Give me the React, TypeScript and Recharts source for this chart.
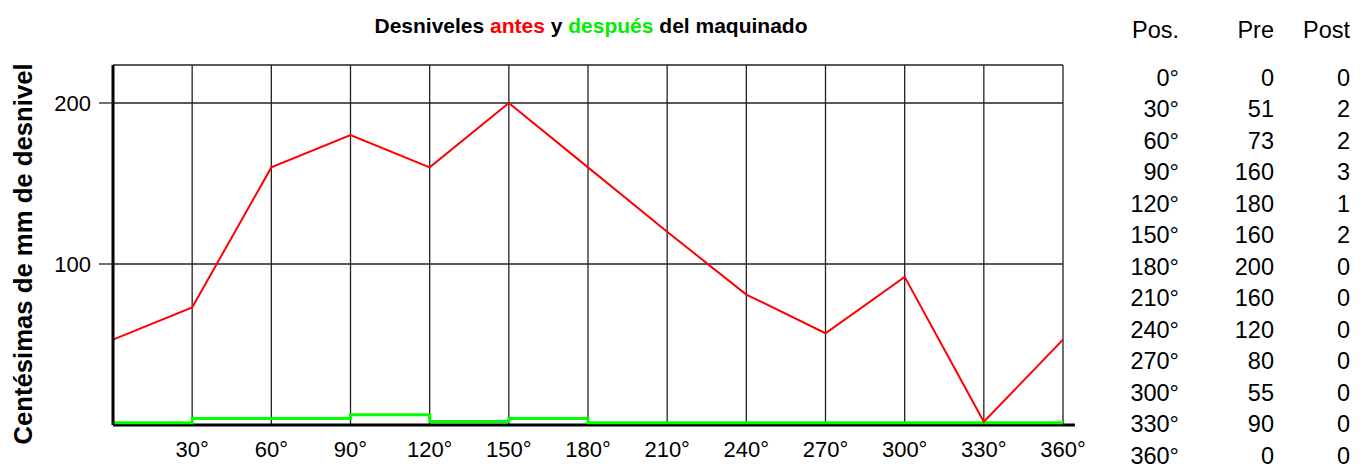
import React from 'react';
import { LineChart, Line, XAxis, YAxis, CartesianGrid, ReferenceLine, Label } from 'recharts';

// plotted positions (degrees) and the two traces as drawn
const angles = [0, 30, 60, 90, 120, 150, 180, 210, 240, 270, 300, 330, 360];
const antes = [53, 73, 160, 180, 160, 200, 160, 120, 81, 57, 92, 2, 53];
const despues = [1.4, 4.1, 4.1, 6.3, 2.1, 4.1, 1.4, 1.4, 1.4, 1.4, 1.4, 1.4, 1.4];

const xTicks = [30, 60, 90, 120, 150, 180, 210, 240, 270, 300, 330, 360];
const yTicks = [100, 200];

// side table
const tablePos = ['0°', '30°', '60°', '90°', '120°', '150°', '180°', '210°', '240°', '270°', '300°', '330°', '360°'];
const tablePre = [0, 51, 73, 160, 180, 160, 200, 160, 120, 80, 55, 90, 0];
const tablePost = [0, 2, 2, 3, 1, 2, 0, 0, 0, 0, 0, 0, 0];

const data = angles.map((a, i) => ({ pos: a, antes: antes[i], despues: despues[i] }));

const font = '"Liberation Sans", Arial, sans-serif';

const YLabel = (props: any) => {
  const { viewBox } = props;
  const cx = 23;
  const cy = viewBox.y + viewBox.height / 2 + 9;
  return (
    <text
      x={cx}
      y={cy}
      transform={`rotate(-90, ${cx}, ${cy})`}
      textAnchor="middle"
      dominantBaseline="central"
      fontFamily={font}
      fontWeight="bold"
      fontSize={25.7}
      fill="#000"
    >
      Centésimas de mm de desnivel
    </text>
  );
};

const rowStyle: React.CSSProperties = {
  position: 'absolute',
  left: 1100,
  height: 23,
  lineHeight: '23px',
  fontSize: 23.5,
  fontFamily: font,
  color: '#000',
  display: 'flex',
  whiteSpace: 'nowrap',
};

const Row = ({ top, cells }: { top: number; cells: (string | number)[] }) => (
  <div style={{ ...rowStyle, top }}>
    <span style={{ width: 79, textAlign: 'right' }}>{cells[0]}</span>
    <span style={{ width: 95, textAlign: 'right' }}>{cells[1]}</span>
    <span style={{ width: 76, textAlign: 'right' }}>{cells[2]}</span>
  </div>
);

export default function App() {
  return (
    <div style={{ position: 'relative', width: 1370, height: 470, background: '#fff', overflow: 'hidden' }}>
      <style>{'body{margin:0;background:#fff}'}</style>

      <div
        style={{
          position: 'absolute',
          left: 0,
          top: 15,
          width: 1182,
          textAlign: 'center',
          fontFamily: font,
          fontWeight: 'bold',
          fontSize: 21,
          lineHeight: '21px',
          color: '#000',
        }}
      >
        Desniveles <span style={{ color: '#ff0000' }}>antes</span> y{' '}
        <span style={{ color: '#00ee00' }}>después</span> del maquinado
      </div>

      <div style={{ position: 'absolute', left: 0, top: 0 }}>
        <LineChart width={1100} height={470} data={data} margin={{ top: 65, right: 37, left: 0, bottom: 0 }}>
          <CartesianGrid stroke="#222" strokeWidth={1.3} horizontal vertical />
          <XAxis
            dataKey="pos"
            type="number"
            domain={[0, 360]}
            ticks={xTicks}
            height={45}
            tickFormatter={(v) => `${v}°`}
            axisLine={false}
            tickLine={false}
            tickSize={8}
            tickMargin={8}
            tick={{ fill: '#000', fontSize: 22, fontFamily: font }}
            interval={0}
          />
          <YAxis
            type="number"
            domain={[0, 223.6]}
            ticks={yTicks}
            width={113}
            axisLine={{ stroke: '#000', strokeWidth: 3 }}
            tickLine={{ stroke: '#222', strokeWidth: 1.3 }}
            tickSize={14}
            tickMargin={8}
            tick={{ fill: '#000', fontSize: 22, fontFamily: font }}
            interval={0}
          >
            <Label content={<YLabel />} />
          </YAxis>
          <ReferenceLine
            segment={[{ x: 0, y: 0 }, { x: 364.5, y: 0 }]}
            stroke="#000"
            strokeWidth={3}
            ifOverflow="visible"
          />
          <Line
            type="stepAfter"
            dataKey="despues"
            stroke="#00ff00"
            strokeWidth={3}
            dot={false}
            isAnimationActive={false}
          />
          <Line
            type="linear"
            dataKey="antes"
            stroke="#ff0000"
            strokeWidth={2}
            dot={false}
            isAnimationActive={false}
          />
        </LineChart>
      </div>

      <Row top={18.5} cells={['Pos.', 'Pre', 'Post']} />
      {tablePos.map((p, i) => (
        <Row key={p} top={66.5 + 31.5 * i} cells={[p, tablePre[i], tablePost[i]]} />
      ))}
    </div>
  );
}
